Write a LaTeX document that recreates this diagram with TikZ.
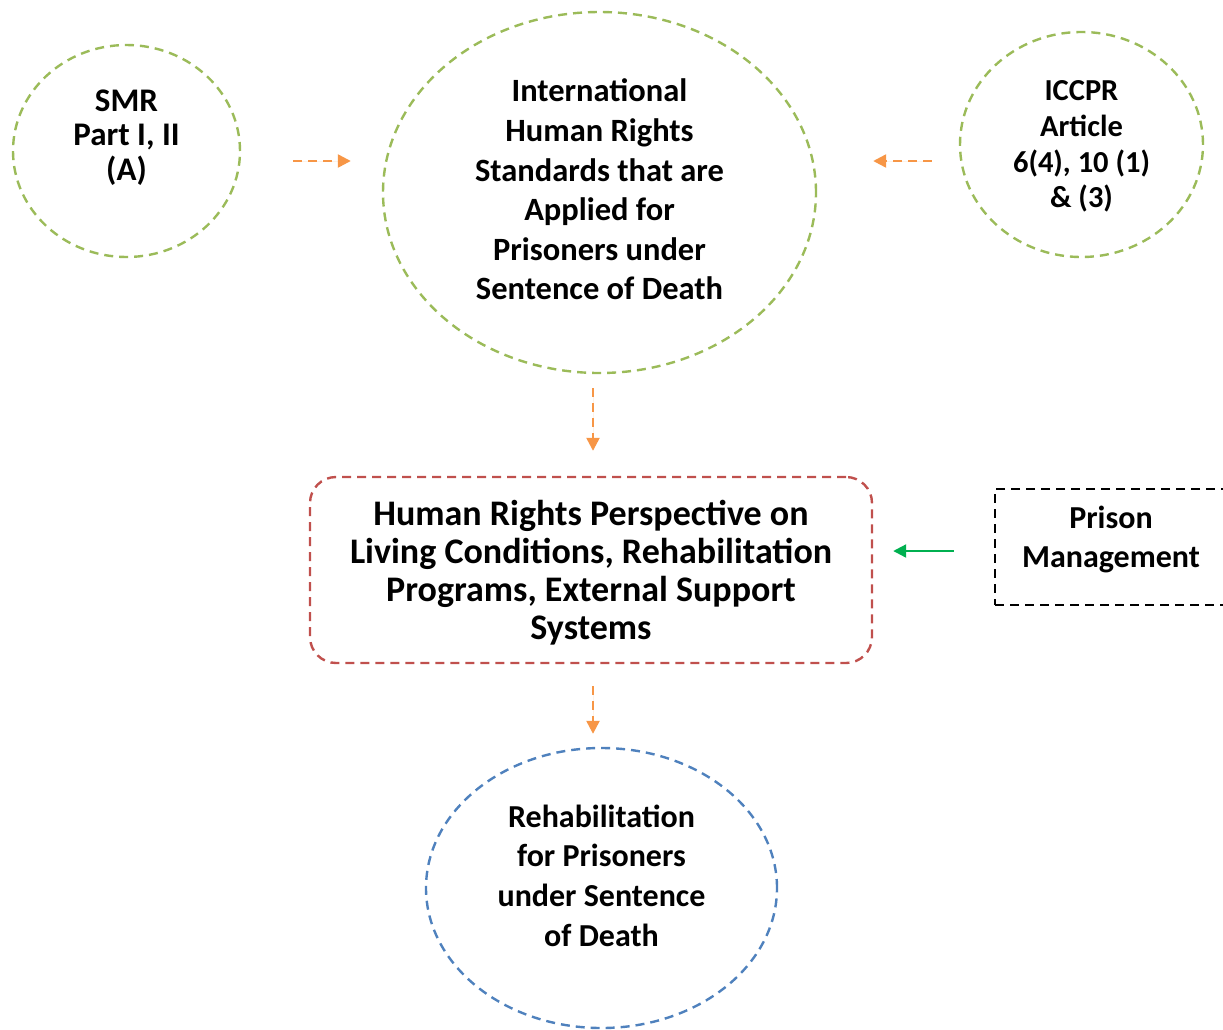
\documentclass[tikz,border=0pt]{standalone}
\usepackage{fontspec}
\setmainfont{Carlito}
\usepackage{tikz}
\usetikzlibrary{shapes.geometric,arrows.meta,positioning}
\definecolor{cOlive}{HTML}{9BBB59}
\definecolor{cOrange}{HTML}{F79646}
\definecolor{cRed}{HTML}{C0504D}
\definecolor{cBlue}{HTML}{4F81BD}
\definecolor{cGreen}{HTML}{00B050}
\tikzset{
  src/.style   = {ellipse, draw=#1, dash pattern=on 9pt off 6pt, line width=2.4pt,
                  inner sep=0pt},
  src/.default = cOlive,
  core/.style  = {rectangle, rounded corners=26pt, draw=cRed, dash pattern=on 9pt off 6pt,
                  line width=2.4pt, inner sep=0pt},
  mgmt/.style  = {rectangle, draw=black, dash pattern=on 9pt off 6pt, line width=2.4pt,
                  inner sep=0pt},
  txt/.style 2 args = {align=center, inner sep=0pt,
                  font=\bfseries\fontsize{#1}{#2}\selectfont},
  fl/.style    = {-{Triangle[length=13pt,width=13pt]}, draw=cOrange, fill=cOrange,
                  line width=2.4pt, dash pattern=on 9pt off 6pt},
  flg/.style   = {-{Triangle[length=13pt,width=13pt]}, draw=cGreen, fill=cGreen,
                  line width=2.2pt},
}

\begin{document}
\begin{tikzpicture}[x=1pt, y=-1pt]
  \useasboundingbox (0,0) rectangle (1223,1029);

  % standards on top
  \node[src, minimum width=227, minimum height=212] (smr) at (126.5,151) {};
  \node[txt={33}{34.5}] (smr-t) at (126.5,137.5) {SMR\\Part I, II\\(A)};
  \node[src, minimum width=433, minimum height=361] (ihrs) at (599.5,192.5) {};
  \node[txt={32.5}{39.6}] (ihrs-t) at (599.5,189.5)
        {International\\Human Rights\\Standards that are\\Applied for\\Prisoners under\\Sentence of Death};
  \node[src, minimum width=243, minimum height=225] (iccpr) at (1081.5,144.5) {};
  \node[txt={30.5}{35.7}] (iccpr-t) at (1081.5,146.5) {ICCPR\\Article\\6(4), 10 (1)\\\& (3)};

  % middle row
  \node[core, minimum width=562, minimum height=186] (persp) at (591,570) {};
  \node[txt={36}{38}] (persp-t) at (591,573)
        {Human Rights Perspective on\\Living Conditions, Rehabilitation\\Programs, External Support\\Systems};
  \node[mgmt, minimum width=232, minimum height=116] (prison) at (1111,547) {};
  \node[txt={32}{39}] (prison-t) at (1111,539.5) {Prison\\Management};

  % outcome
  \node[src=cBlue, minimum width=351, minimum height=280] (rehab) at (601.5,888) {};
  \node[txt={32}{39.7}] (rehab-t) at (601.5,875.5)
        {Rehabilitation\\for Prisoners\\under Sentence\\of Death};

  % connectors stop short of the shapes
  \draw[fl] ([xshift=52pt,yshift=-10pt]smr.east) -- ([xshift=-31pt,yshift=31.5pt]ihrs.west);
  \draw[fl] ([xshift=-27pt,yshift=-16.5pt]iccpr.west) -- ([xshift=56pt,yshift=31.5pt]ihrs.east);
  \draw[fl] ([xshift=-6.5pt,yshift=-14pt]ihrs.south) -- ([xshift=2pt,yshift=25pt]persp.north);
  \draw[fl] ([xshift=2pt,yshift=-22pt]persp.south) -- ([xshift=-8.5pt,yshift=13pt]rehab.north);
  \draw[flg] ([xshift=-40pt,yshift=-4pt]prison.west) -- ([xshift=20pt,yshift=19pt]persp.east);
\end{tikzpicture}
\end{document}
